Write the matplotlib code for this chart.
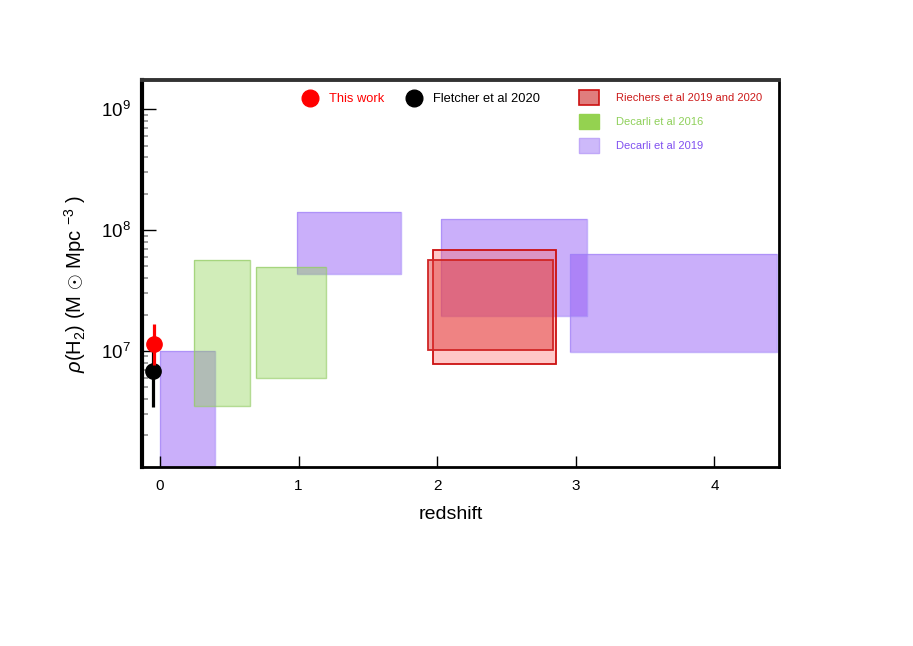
import matplotlib
matplotlib.use("Agg")
import matplotlib.pyplot as plt
from matplotlib.patches import Rectangle, Patch
from matplotlib.lines import Line2D
from matplotlib.ticker import LogLocator, NullFormatter, FixedLocator

plt.rcParams['font.family'] = ['Liberation Sans', 'DejaVu Sans']
plt.rcParams['mathtext.fontset'] = 'custom'
plt.rcParams['mathtext.rm'] = 'Liberation Sans'
plt.rcParams['mathtext.it'] = 'Liberation Sans:italic'
plt.rcParams['mathtext.bf'] = 'Liberation Sans:bold'

# ---- data ----
# boxes: (z_min, z_max, rho_min, rho_max)
decarli2019_boxes = [
    (0.00, 0.40, 1.0e6, 1.0e7),
    (0.99, 1.74, 4.35e7, 1.40e8),
    (2.03, 3.08, 1.96e7, 1.23e8),
    (2.96, 4.45, 9.85e6, 6.3e7),
]
decarli2016_boxes = [
    (0.245, 0.65, 3.5e6, 5.6e7),
    (0.69, 1.20, 6.0e6, 4.9e7),
]
riechers_box_outer = (1.97, 2.86, 7.8e6, 6.9e7)
riechers_box_inner = (1.93, 2.835, 1.02e7, 5.6e7)

this_work_z = [-0.043]
this_work_rho = [1.15e7]
this_work_lo = [7.7e6]
this_work_hi = [1.68e7]

fletcher_z = [-0.05]
fletcher_rho = [6.85e6]
fletcher_lo = [3.45e6]
fletcher_hi = [1.02e7]

xticks = [0, 1, 2, 3, 4]
yticks = [1e7, 1e8, 1e9]
ytick_labels = [r'$10^{7}$', r'$10^{8}$', r'$10^{9}$']

# ---- figure ----
W, H = 913, 646
fig = plt.figure(figsize=(W / 100, H / 100), dpi=100)
L, R, T, B = 142, 779, 80, 467
ax = fig.add_axes([L / W, 1 - B / H, (R - L) / W, (B - T) / H])
ax.set_yscale('log')
ax.set_xlim(-0.13, 4.466)
ax.set_ylim(10 ** 6.039, 10 ** 9.242)

purple = '#8a4ff5'
green = '#8cd250'


def add_box(b, fc, alpha, ec, lw, z):
    x0, x1, y0, y1 = b
    ax.add_patch(Rectangle((x0, y0), x1 - x0, y1 - y0, facecolor=fc, alpha=alpha,
                           edgecolor='none', zorder=z))
    ax.add_patch(Rectangle((x0, y0), x1 - x0, y1 - y0, facecolor='none',
                           edgecolor=ec, lw=lw, zorder=z + 0.01))


for b in decarli2019_boxes:
    add_box(b, purple, 0.45, (0.62, 0.5, 0.97, 0.6), 1.0, 1)
for b in decarli2016_boxes:
    add_box(b, green, 0.40, (0.58, 0.8, 0.4, 0.7), 1.0, 2)
add_box(riechers_box_outer, '#ff6060', 0.35, '#cc1010', 1.3, 3)
add_box(riechers_box_inner, '#e04040', 0.50, '#d02525', 1.3, 3.5)

# points
ax.errorbar(fletcher_z, fletcher_rho,
            yerr=[[fletcher_rho[0] - fletcher_lo[0]], [fletcher_hi[0] - fletcher_rho[0]]],
            fmt='o', color='black', ms=11, elinewidth=2.3, capsize=0, zorder=5)
ax.errorbar(this_work_z, this_work_rho,
            yerr=[[this_work_rho[0] - this_work_lo[0]], [this_work_hi[0] - this_work_rho[0]]],
            fmt='o', color='red', ms=11, elinewidth=2.3, capsize=0, zorder=6)

# axes styling
ax.set_xticks(xticks)
ax.set_xticklabels([str(t) for t in xticks])
ax.yaxis.set_major_locator(FixedLocator(yticks))
ax.set_yticklabels(ytick_labels)
ax.yaxis.set_minor_locator(LogLocator(base=10, subs=range(2, 10), numticks=20))
ax.yaxis.set_minor_formatter(NullFormatter())
ax.tick_params(axis='x', which='major', direction='in', length=8, width=1, labelsize=11, pad=9)
ax.tick_params(axis='y', which='major', direction='in', length=10, width=1, labelsize=13.5, pad=8)
ax.tick_params(axis='y', which='minor', direction='in', length=4, width=1.3, color='#9a9a9a')
ax.tick_params(axis='x', which='minor', bottom=False)

ax.spines['left'].set_linewidth(3)
ax.spines['bottom'].set_linewidth(2)
ax.spines['right'].set_linewidth(2)
ax.spines['top'].set_linewidth(2.8)
ax.spines['top'].set_color('#333333')

ax.set_xlabel('redshift', fontsize=14)
ax.xaxis.set_label_coords((451 - L) / (R - L), -(506 - B) / (B - T))
ax.set_ylabel(r'$\rho$(H$_2$) (M $\odot$ Mpc $^{-3}$ )', fontsize=14.5)
ax.yaxis.set_label_coords(-(L - 88) / (R - L), 1 - (284 - T) / (B - T))

# legends
fs1 = 9.3
fs1px = fs1 * 100 / 72
h1 = [Line2D([], [], ls='none', marker='o', color='red', ms=12),
      Line2D([], [], ls='none', marker='o', color='black', ms=12)]
leg1 = ax.legend(h1, ['This work', 'Fletcher et al 2020'], ncol=2, frameon=False,
                 fontsize=fs1, handlelength=1.0, handletextpad=0.95, columnspacing=1.85,
                 borderpad=0, borderaxespad=0, loc='center left',
                 bbox_to_anchor=((310 - 0.5 * fs1px) / W, 1 - 99 / H),
                 bbox_transform=fig.transFigure, labelcolor=['red', 'black'])
ax.add_artist(leg1)

fs2 = 8
fs2px = fs2 * 100 / 72
h2 = [Patch(facecolor='#e07d7d', edgecolor='#cc1010', lw=1.2),
      Patch(facecolor='#94d250', edgecolor='#94d250', lw=1.0),
      Patch(facecolor='#cdb9fa', edgecolor='#c0a8f8', lw=1.0)]
leg2 = ax.legend(h2, ['Riechers et al 2019 and 2020', 'Decarli et al 2016', 'Decarli et al 2019'],
                 frameon=False, fontsize=fs2, handlelength=20 / fs2px, handleheight=19 / fs2px,
                 handletextpad=17 / fs2px, labelspacing=9 / fs2px,
                 borderpad=0, borderaxespad=0, loc='upper left',
                 bbox_to_anchor=(579 / W, 1 - 90 / H), bbox_transform=fig.transFigure,
                 labelcolor=['#cc1a1a', '#8fd05a', '#8050f0'])

fig.savefig('out.png', dpi=100)
